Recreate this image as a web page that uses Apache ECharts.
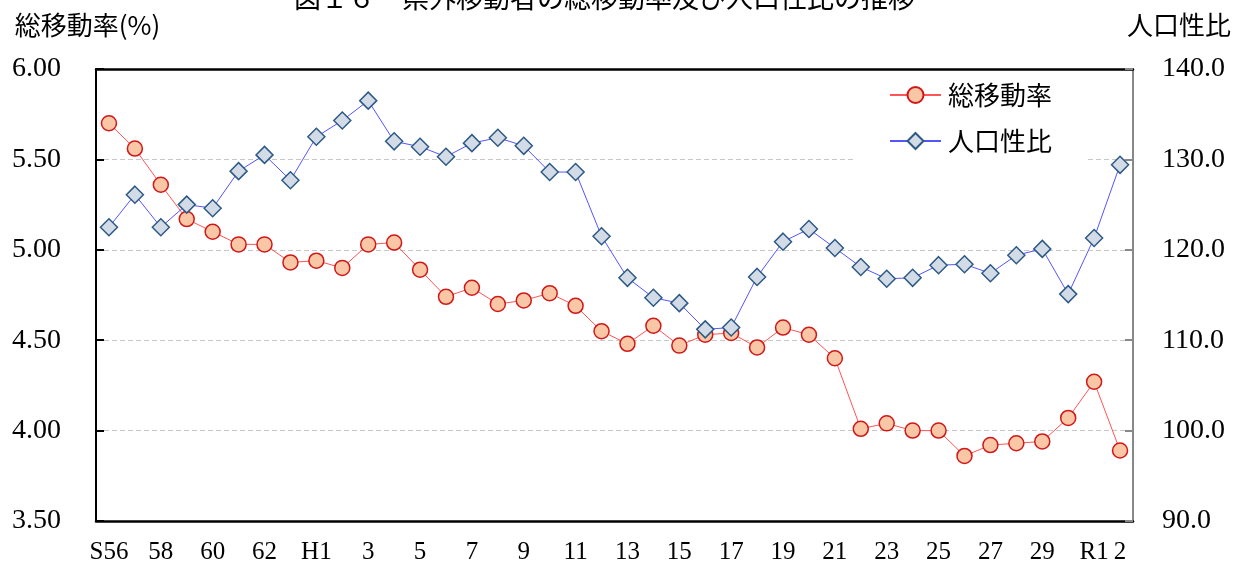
<!DOCTYPE html>
<html>
<head>
<meta charset="utf-8">
<script src="https://cdn.jsdelivr.net/npm/echarts@6/dist/echarts.min.js"></script>
<style>
  html, body { margin: 0; padding: 0; background: #fff; }
  #chart { width: 1243px; height: 565px; }
</style>
</head>
<body>
<div id="chart"></div>
<script>
  // 年次（S56〜R2）
  let years = ['S56', '57', '58', '59', '60', '61', '62', '63', 'H1', '2',
    '3', '4', '5', '6', '7', '8', '9', '10', '11', '12',
    '13', '14', '15', '16', '17', '18', '19', '20', '21', '22',
    '23', '24', '25', '26', '27', '28', '29', '30', 'R1', '2'];

  // 総移動率(%)
  let moveRate = [5.70, 5.56, 5.36, 5.17, 5.10, 5.03, 5.03, 4.93, 4.94, 4.90,
    5.03, 5.04, 4.89, 4.74, 4.79, 4.70, 4.72, 4.76, 4.69, 4.55,
    4.48, 4.58, 4.47, 4.53, 4.54, 4.46, 4.57, 4.53, 4.40, 4.01,
    4.04, 4.00, 4.00, 3.86, 3.92, 3.93, 3.94, 4.07, 4.27, 3.89];

  // 人口性比
  let sexRatio = [122.5, 126.1, 122.5, 125.0, 124.6, 128.7, 130.5, 127.7, 132.5, 134.3,
    136.5, 132.0, 131.4, 130.3, 131.8, 132.4, 131.5, 128.6, 128.6, 121.5,
    116.9, 114.7, 114.1, 111.2, 111.4, 117.0, 120.9, 122.3, 120.2, 118.1,
    116.8, 116.9, 118.3, 118.4, 117.4, 119.4, 120.1, 115.1, 121.3, 129.4];

  let chart = echarts.init(document.getElementById('chart'));
  let serif = '"Liberation Serif", "DejaVu Serif", serif';
  let gothic = '"Noto Sans CJK JP", "Noto Sans", sans-serif';

  let option = {
    backgroundColor: '#fff',
    animation: false,
    title: {
      text: '図１６　県外移動者の総移動率及び人口性比の推移',
      left: 289,
      top: -21,
      textStyle: { fontFamily: gothic, fontSize: 27, fontWeight: 'normal', color: '#000' }
    },
    legend: {
      orient: 'vertical',
      left: 856,
      top: 72,
      padding: [10, 34, 6, 33],
      itemGap: 20,
      itemWidth: 51,
      itemHeight: 20,
      backgroundColor: '#fff',
      textStyle: { fontFamily: gothic, fontSize: 26, color: '#000', padding: [0, 0, 0, 2] },
      data: ['総移動率', '人口性比']
    },
    grid: {
      left: 96,
      right: 110,
      top: 69,
      bottom: 44
    },
    xAxis: [{
      type: 'category',
      data: years,
      boundaryGap: true,
      axisLine: { lineStyle: { color: '#000', width: 2.5 } },
      axisTick: { inside: true, length: 8, interval: 0, lineStyle: { color: '#000', width: 1.5 } },
      axisLabel: {
        interval: function (index) {
          return index % 2 === 0 || index === years.length - 1;
        },
        margin: 19,
        fontFamily: serif,
        fontSize: 25,
        color: '#000'
      }
    }, {
      // 上枠線
      type: 'category',
      data: years,
      position: 'top',
      axisLine: { lineStyle: { color: '#000', width: 2.5 } },
      axisTick: { show: false },
      axisLabel: { show: false }
    }],
    yAxis: [{
      type: 'value',
      min: 3.5,
      max: 6.0,
      interval: 0.5,
      name: '総移動率(%)',
      nameLocation: 'end',
      nameGap: 31,
      nameTextStyle: { fontFamily: gothic, fontSize: 26, color: '#000', align: 'center', padding: [0, 17, 0, 0] },
      axisLine: { show: true, lineStyle: { color: '#000', width: 2 } },
      axisTick: { show: true, inside: true, length: 8, lineStyle: { color: '#000', width: 2 } },
      axisLabel: {
        margin: 35,
        fontFamily: serif,
        fontSize: 28,
        color: '#000',
        formatter: function (v) { return v.toFixed(2); }
      },
      splitLine: { show: true, lineStyle: { color: '#c8c8c8', type: [5, 3], width: 1 } }
    }, {
      type: 'value',
      min: 90,
      max: 140,
      interval: 10,
      position: 'right',
      name: '人口性比',
      nameLocation: 'end',
      nameGap: 31,
      nameTextStyle: { fontFamily: gothic, fontSize: 26, color: '#000', align: 'center', padding: [0, 0, 0, 92] },
      axisLine: { show: true, lineStyle: { color: '#888', width: 2 } },
      axisTick: { show: true, inside: true, length: 8, lineStyle: { color: '#888', width: 2 } },
      axisLabel: {
        margin: 29,
        fontFamily: serif,
        fontSize: 28,
        color: '#000',
        formatter: function (v) { return v.toFixed(1); }
      },
      splitLine: { show: false }
    }],
    series: [{
      name: '総移動率',
      type: 'line',
      yAxisIndex: 0,
      data: moveRate,
      symbol: 'circle',
      symbolSize: 15,
      z: 2,
      lineStyle: { color: '#ff5555', width: 1 },
      itemStyle: { color: '#f9c6a6', borderColor: '#d01818', borderWidth: 1.5 }
    }, {
      name: '人口性比',
      type: 'line',
      yAxisIndex: 1,
      data: sexRatio,
      symbol: 'diamond',
      symbolSize: [17, 17],
      z: 3,
      lineStyle: { color: '#5555ff', width: 1 },
      itemStyle: { color: '#d3dce6', borderColor: '#2d5a85', borderWidth: 1.5 }
    }]
  };
  chart.setOption(option);
</script>
</body>
</html>
